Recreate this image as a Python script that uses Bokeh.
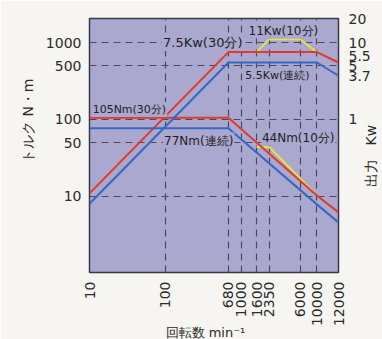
import math
from bokeh.plotting import figure
from bokeh.models import Range1d, LogAxis, FixedTicker, LogScale, Label, Title
from bokeh.embed import file_html
from bokeh.resources import INLINE

# ---------------- data ----------------
rpm_ticks = [10, 100, 680, 1000, 1600, 2350, 6000, 10000, 12000]
rpm_grid = [100, 680, 1000, 1600, 2350, 6000, 10000]
torque_ticks = [1000, 500, 100, 50, 10]
power_ticks = [20, 10, 5.5, 5, 3.7, 1]

rpm_main = [10, 680, 10000, 12000]
torque_30min = [105, 105, 10.3, 6.2]
torque_cont = [77, 77, 7.9, 4.6]
power_30min = [0.11, 7.5, 7.5, 5.5]
power_cont = [0.0806, 5.5, 5.5, 3.7]

rpm_10min_t = [1600, 2350, 10000]
torque_10min = [44, 44, 10.3]
rpm_10min_p = [1600, 2350, 6000, 10000]
power_10min = [7.5, 11, 11, 7.5]

# ---------------- style ----------------
BG = "#aaa8cf"
OUTER = "#f6f5f1"
RED = "#e03a2c"
BLUE = "#3667c2"
YELLOW = "#dce24a"
GRID = "#4a4a5c"
FONT = "DejaVu Sans"
TXT = "#2a2a2a"

# the chart stretches the 10000-12000 segment up to the right edge
STRETCH = 3.6
def ax(n):
    return n if n <= 10000 else 10000 * (n / 10000) ** STRETCH

W, H = 390, 353
FL, FR, FT, FB = 89, 342, 18, 272   # frame edges on the page
p = figure(width=W, height=H, x_axis_type="log", y_axis_type="log",
           x_range=Range1d(10, ax(12000)), y_range=Range1d(1.03, 2050),
           output_backend="svg", toolbar_location=None,
           min_border_left=FL, min_border_right=W - FR, min_border_top=FT, min_border_bottom=H - FB,
           background_fill_color=BG, border_fill_color=OUTER,
           outline_line_color="#3a3a44", outline_line_width=1.5)

p.extra_y_ranges = {"power": Range1d(0.0103, 20.5)}
p.extra_y_scales = {"power": LogScale()}

# grids
p.xgrid.ticker = FixedTicker(ticks=[ax(t) for t in rpm_grid])
p.ygrid.ticker = FixedTicker(ticks=torque_ticks)
for g in (p.xgrid, p.ygrid):
    g.grid_line_color = GRID
    g.grid_line_dash = "7 5"
    g.grid_line_width = 1.2
    g.minor_grid_line_color = None

def style_axis(a, standoff, size="14px"):
    a.axis_line_color = None
    a.major_tick_line_color = None
    a.minor_tick_line_color = None
    a.major_tick_out = 0
    a.major_tick_in = 0
    a.major_label_standoff = standoff
    a.major_label_text_font = FONT
    a.major_label_text_font_size = size
    a.major_label_text_color = TXT

xa = p.xaxis[0]
xa.ticker = FixedTicker(ticks=[ax(t) for t in rpm_ticks])
xa.major_label_overrides = {ax(t): str(t) for t in rpm_ticks}
xa.major_label_orientation = math.pi / 2
style_axis(xa, 9)

ya = p.yaxis[0]
ya.ticker = FixedTicker(ticks=torque_ticks)
ya.major_label_overrides = {t: str(t) for t in torque_ticks}
style_axis(ya, 8)

# right axis: crowded labels nudged like in the original
label_nudge = {5.5: 6.6}
r_pos = [label_nudge.get(t, t) for t in power_ticks]
ra = LogAxis(y_range_name="power", ticker=FixedTicker(ticks=r_pos),
             major_label_overrides={label_nudge.get(t, t): str(t) for t in power_ticks})
style_axis(ra, 10)
p.add_layout(ra, "right")

# right axis title, drawn as the single label of an outer right axis
right_title = "出力　Kw"
right_title_at = 0.131   # bottom end of the title, in kW
ra2 = LogAxis(y_range_name="power", ticker=FixedTicker(ticks=[right_title_at]),
              major_label_overrides={right_title_at: right_title},
              major_label_orientation=math.pi / 2)
style_axis(ra2, -2)
p.add_layout(ra2, "right")

# curves
p.line([ax(n) for n in rpm_10min_t], torque_10min, line_color=YELLOW, line_width=2)
p.line([ax(n) for n in rpm_10min_p], power_10min, line_color=YELLOW, line_width=2, y_range_name="power")
p.line([ax(n) for n in rpm_main], torque_30min, line_color=RED, line_width=2)
p.line([ax(n) for n in rpm_main], power_30min, line_color=RED, line_width=2, y_range_name="power")
p.line([ax(n) for n in rpm_main], torque_cont, line_color=BLUE, line_width=2)
p.line([ax(n) for n in rpm_main], power_cont, line_color=BLUE, line_width=2, y_range_name="power")

def note(x, y, text, size, rng="default"):
    lab = Label(x=x, y=y, text=text, text_align="center", text_baseline="middle",
                text_font=FONT, text_font_size=size, text_color="#1e1e1e",
                y_range_name=rng, background_fill_color=BG)
    try:
        lab.padding = 1
    except Exception:
        pass
    p.add_layout(lab)

note(312, 10, "7.5Kw(30分)", "13px", "power")
note(3614, 14.3, "11Kw(10分)", "12px", "power")
note(3023, 3.73, "5.5Kw(連続)", "11px", "power")
note(33.6, 135, "105Nm(30分)", "11px")
note(276, 53.3, "77Nm(連続)", "12px")
note(5662, 58.3, "44Nm(10分)", "12px")

# axis titles
def title(text, side, align, offset, standoff, valign=None, size="14px"):
    t = Title(text=text, align=align, offset=offset, text_font=FONT,
              text_font_size=size, text_font_style="normal", text_color=TXT)
    try:
        t.standoff = standoff
    except Exception:
        pass
    if valign:
        t.vertical_align = valign
    p.add_layout(t, side)

title("トルク N・m", "left", "right", 60, 14)
title("回転数 min⁻¹", "below", "left", 76, -10, "top", "13px")

open("out.html", "w").write(file_html(p, INLINE))
